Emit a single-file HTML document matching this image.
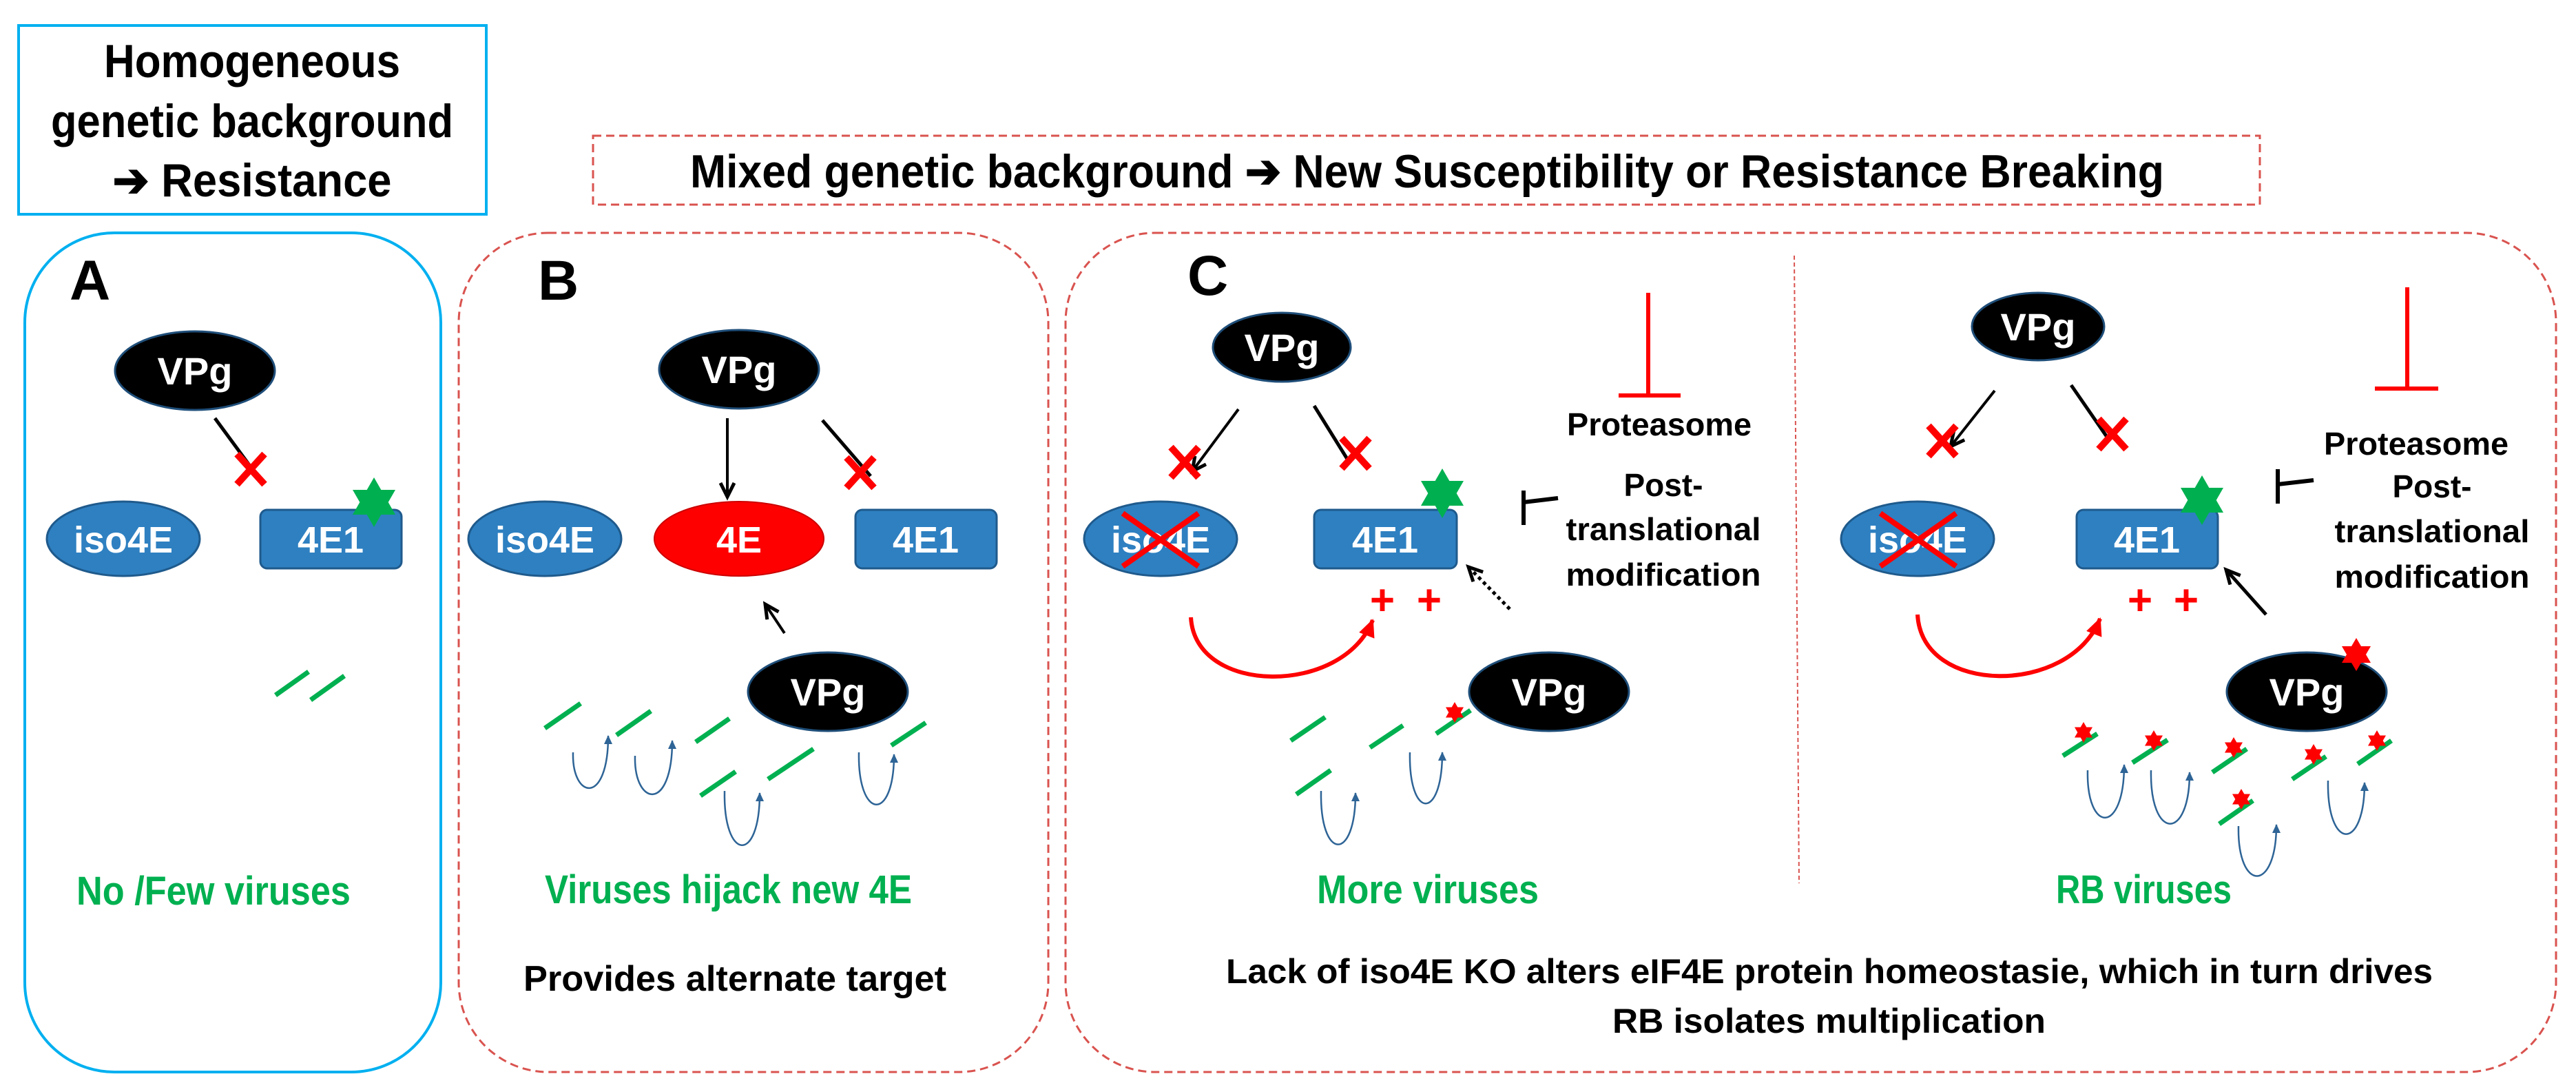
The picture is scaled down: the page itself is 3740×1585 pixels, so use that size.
<!DOCTYPE html>
<html><head><meta charset="utf-8"><style>
html,body{margin:0;padding:0;background:#fff;}
svg{display:block;}
text{font-family:"Liberation Sans",sans-serif;font-weight:bold;}
</style></head><body>
<svg width="3740" height="1585" viewBox="0 0 3740 1585" xmlns="http://www.w3.org/2000/svg">
<defs>
<marker id="ah" markerUnits="userSpaceOnUse" markerWidth="30" markerHeight="30" refX="22" refY="12" orient="auto"><path d="M2,2 L22,12 L2,22" fill="none" stroke="#000" stroke-width="5"/></marker>
<marker id="rah" markerUnits="userSpaceOnUse" markerWidth="34" markerHeight="34" refX="24" refY="14" orient="auto"><path d="M0,2 L26,14 L0,26 Z" fill="#f00"/></marker>
<marker id="bah" markerUnits="userSpaceOnUse" markerWidth="16" markerHeight="16" refX="12" refY="7" orient="auto"><path d="M0,1 L13,7 L0,13 Z" fill="#2e6496"/></marker>
<g id="rx"><path d="M-20,-22 L20,22 M20,-22 L-20,22" stroke="#f00" stroke-width="10"/></g>
<g id="gs"><polygon points="0,-36 31,18 -31,18" fill="#00b050"/><polygon points="0,36 31,-18 -31,-18" fill="#00b050"/></g>
<g id="rs"><polygon points="0,-15 13,7.5 -13,7.5" fill="#f00"/><polygon points="0,15 13,-7.5 -13,-7.5" fill="#f00"/></g>
<g id="bs"><polygon points="0,-24 21,12 -21,12" fill="#f00"/><polygon points="0,24 21,-12 -21,-12" fill="#f00"/></g>
</defs>

<!-- Top boxes -->
<rect x="27" y="37" width="679" height="274" fill="none" stroke="#00b0f0" stroke-width="4"/>
<text x="366" y="112" font-size="68" text-anchor="middle" textLength="430" lengthAdjust="spacingAndGlyphs">Homogeneous</text>
<text x="366" y="199" font-size="68" text-anchor="middle" textLength="584" lengthAdjust="spacingAndGlyphs">genetic background</text>
<text x="366" y="285" font-size="68" text-anchor="middle" textLength="405" lengthAdjust="spacingAndGlyphs">➔ Resistance</text>

<rect x="861" y="197" width="2420" height="100" fill="none" stroke="#d9534f" stroke-width="3" stroke-dasharray="12,7"/>
<text x="1002" y="272" font-size="68" textLength="2140" lengthAdjust="spacingAndGlyphs">Mixed genetic background ➔ New Susceptibility or Resistance Breaking</text>

<!-- Panels -->
<rect x="36" y="338" width="604" height="1218" rx="130" fill="none" stroke="#00b0f0" stroke-width="4"/>
<rect x="666" y="338" width="856" height="1218" rx="130" fill="none" stroke="#d9534f" stroke-width="3" stroke-dasharray="12,7"/>
<rect x="1547" y="338" width="2164" height="1218" rx="130" fill="none" stroke="#d9534f" stroke-width="3" stroke-dasharray="12,7"/>
<line x1="2605" y1="371" x2="2612" y2="1282" stroke="#d9534f" stroke-width="2" stroke-dasharray="6,4"/>

<text x="101" y="435" font-size="82">A</text>
<text x="781" y="435" font-size="82">B</text>
<text x="1724" y="428" font-size="82">C</text>

<!-- Panel A -->
<ellipse cx="283" cy="538" rx="116" ry="57" fill="#000" stroke="#1f4e79" stroke-width="3"/>
<text x="283" y="558" font-size="56" fill="#fff" text-anchor="middle">VPg</text>
<line x1="312" y1="607" x2="373" y2="690" stroke="#000" stroke-width="5"/>
<use href="#rx" x="364" y="681"/>
<ellipse cx="179" cy="782" rx="111" ry="54" fill="#2e80c1" stroke="#1f5a8c" stroke-width="3"/>
<text x="179" y="802" font-size="54" fill="#fff" text-anchor="middle">iso4E</text>
<rect x="378" y="740" width="205" height="85" rx="10" fill="#2e80c1" stroke="#1f5a8c" stroke-width="3"/>
<text x="480" y="802" font-size="54" fill="#fff" text-anchor="middle">4E1</text>
<use href="#gs" x="543" y="729"/>
<g stroke="#00b050" stroke-width="7"><line x1="400" y1="1009" x2="448" y2="975"/><line x1="451" y1="1016" x2="500" y2="981"/></g>
<text x="111" y="1313" font-size="58" fill="#00b050" textLength="398" lengthAdjust="spacingAndGlyphs">No /Few viruses</text>

<!-- Panel B -->
<ellipse cx="1073" cy="536" rx="116" ry="57" fill="#000" stroke="#1f4e79" stroke-width="3"/>
<text x="1073" y="556" font-size="56" fill="#fff" text-anchor="middle">VPg</text>
<line x1="1056" y1="607" x2="1056" y2="721" stroke="#000" stroke-width="4" marker-end="url(#ah)"/>
<line x1="1194" y1="610" x2="1264" y2="691" stroke="#000" stroke-width="5"/>
<use href="#rx" x="1249" y="686"/>
<ellipse cx="791" cy="782" rx="111" ry="54" fill="#2e80c1" stroke="#1f5a8c" stroke-width="3"/>
<text x="791" y="802" font-size="54" fill="#fff" text-anchor="middle">iso4E</text>
<ellipse cx="1073" cy="782" rx="123" ry="54" fill="#f00" stroke="#c00" stroke-width="2"/>
<text x="1073" y="802" font-size="54" fill="#fff" text-anchor="middle">4E</text>
<rect x="1242" y="740" width="205" height="85" rx="10" fill="#2e80c1" stroke="#1f5a8c" stroke-width="3"/>
<text x="1344" y="802" font-size="54" fill="#fff" text-anchor="middle">4E1</text>
<line x1="1139" y1="919" x2="1111" y2="877" stroke="#000" stroke-width="4" marker-end="url(#ah)"/>
<ellipse cx="1202" cy="1004" rx="116" ry="57" fill="#000" stroke="#1f4e79" stroke-width="3"/>
<text x="1202" y="1024" font-size="56" fill="#fff" text-anchor="middle">VPg</text>
<g stroke="#00b050" stroke-width="7">
<line x1="791" y1="1057" x2="843" y2="1021"/><line x1="895" y1="1067" x2="945" y2="1032"/>
<line x1="1010" y1="1077" x2="1059" y2="1043"/><line x1="1017" y1="1155" x2="1068" y2="1120"/>
<line x1="1115" y1="1131" x2="1181" y2="1087"/><line x1="1294" y1="1082" x2="1344" y2="1049"/>
</g>
<g fill="none" stroke="#2e6496" stroke-width="2.5" marker-end="url(#bah)">
<path d="M832,1092 C830,1160 883,1170 883,1068"/>
<path d="M922,1097 C920,1170 976,1180 976,1075"/>
<path d="M1052,1148 C1050,1250 1103,1255 1103,1151"/>
<path d="M1247,1092 C1245,1190 1298,1195 1298,1095"/>
</g>
<text x="791" y="1311" font-size="58" fill="#00b050" textLength="533" lengthAdjust="spacingAndGlyphs">Viruses hijack new 4E</text>
<text x="760" y="1438" font-size="52" fill="#000" textLength="614" lengthAdjust="spacingAndGlyphs">Provides alternate target</text>

<!-- Panel C left -->
<ellipse cx="1861" cy="504" rx="100" ry="50" fill="#000" stroke="#1f4e79" stroke-width="3"/>
<text x="1861" y="524" font-size="56" fill="#fff" text-anchor="middle">VPg</text>
<line x1="1798" y1="594" x2="1731" y2="684" stroke="#000" stroke-width="4" marker-end="url(#ah)"/>
<use href="#rx" x="1720" y="671"/>
<line x1="1908" y1="589" x2="1959" y2="671" stroke="#000" stroke-width="5"/>
<use href="#rx" x="1968" y="658"/>
<ellipse cx="1685" cy="782" rx="111" ry="54" fill="#2e80c1" stroke="#1f5a8c" stroke-width="3"/>
<text x="1685" y="802" font-size="54" fill="#fff" text-anchor="middle">iso4E</text>
<path d="M1630,745 L1740,822 M1740,745 L1630,822" stroke="#f00" stroke-width="8"/>
<rect x="1908" y="740" width="207" height="85" rx="10" fill="#2e80c1" stroke="#1f5a8c" stroke-width="3"/>
<text x="2011" y="802" font-size="54" fill="#fff" text-anchor="middle">4E1</text>
<use href="#gs" x="2094" y="716"/>
<path d="M2393,425 L2393,574 M2350,574 L2440,574" stroke="#f00" stroke-width="6" fill="none"/>
<text x="2409" y="632" font-size="46" text-anchor="middle" textLength="268" lengthAdjust="spacingAndGlyphs">Proteasome</text>
<text x="2415" y="720" font-size="46" text-anchor="middle">Post-</text>
<text x="2415" y="784" font-size="46" text-anchor="middle" textLength="283" lengthAdjust="spacingAndGlyphs">translational</text>
<text x="2415" y="850" font-size="46" text-anchor="middle" textLength="283" lengthAdjust="spacingAndGlyphs">modification</text>
<path d="M2212,712 L2212,762 M2212,729 L2262,723" stroke="#000" stroke-width="6" fill="none"/>
<line x1="2192" y1="884" x2="2132" y2="823" stroke="#000" stroke-width="5" stroke-dasharray="5,5" marker-end="url(#ah)"/>
<text x="2007" y="892" font-size="62" fill="#f00" text-anchor="middle">+</text>
<text x="2075" y="892" font-size="62" fill="#f00" text-anchor="middle">+</text>
<path d="M1729,896 C1735,1010 1950,1010 1993,900" fill="none" stroke="#f00" stroke-width="6" marker-end="url(#rah)"/>
<ellipse cx="2249" cy="1004" rx="116" ry="57" fill="#000" stroke="#1f4e79" stroke-width="3"/>
<text x="2249" y="1024" font-size="56" fill="#fff" text-anchor="middle">VPg</text>
<g stroke="#00b050" stroke-width="7">
<line x1="1874" y1="1075" x2="1924" y2="1041"/><line x1="1989" y1="1085" x2="2037" y2="1053"/>
<line x1="2085" y1="1065" x2="2135" y2="1031"/><line x1="1882" y1="1153" x2="1932" y2="1118"/>
</g>
<use href="#rs" x="2112" y="1034"/>
<g fill="none" stroke="#2e6496" stroke-width="2.5" marker-end="url(#bah)">
<path d="M1918,1148 C1916,1250 1968,1252 1968,1151"/>
<path d="M2047,1092 C2045,1190 2094,1192 2094,1092"/>
</g>
<text x="1912" y="1311" font-size="58" fill="#00b050" textLength="322" lengthAdjust="spacingAndGlyphs">More viruses</text>

<!-- Panel C right -->
<ellipse cx="2959" cy="474" rx="96" ry="49" fill="#000" stroke="#1f4e79" stroke-width="3"/>
<text x="2959" y="494" font-size="56" fill="#fff" text-anchor="middle">VPg</text>
<line x1="2896" y1="567" x2="2832" y2="648" stroke="#000" stroke-width="4" marker-end="url(#ah)"/>
<use href="#rx" x="2820" y="640"/>
<line x1="3007" y1="559" x2="3063" y2="640" stroke="#000" stroke-width="5"/>
<use href="#rx" x="3067" y="630"/>
<ellipse cx="2784" cy="782" rx="111" ry="54" fill="#2e80c1" stroke="#1f5a8c" stroke-width="3"/>
<text x="2784" y="802" font-size="54" fill="#fff" text-anchor="middle">iso4E</text>
<path d="M2730,745 L2840,822 M2840,745 L2730,822" stroke="#f00" stroke-width="8"/>
<rect x="3015" y="740" width="205" height="85" rx="10" fill="#2e80c1" stroke="#1f5a8c" stroke-width="3"/>
<text x="3117" y="802" font-size="54" fill="#fff" text-anchor="middle">4E1</text>
<use href="#gs" x="3197" y="726"/>
<path d="M3495,417 L3495,564 M3448,564 L3540,564" stroke="#f00" stroke-width="6" fill="none"/>
<text x="3508" y="660" font-size="46" text-anchor="middle" textLength="268" lengthAdjust="spacingAndGlyphs">Proteasome</text>
<text x="3531" y="722" font-size="46" text-anchor="middle">Post-</text>
<text x="3531" y="787" font-size="46" text-anchor="middle" textLength="283" lengthAdjust="spacingAndGlyphs">translational</text>
<text x="3531" y="853" font-size="46" text-anchor="middle" textLength="283" lengthAdjust="spacingAndGlyphs">modification</text>
<path d="M3307,681 L3307,731 M3307,703 L3359,697" stroke="#000" stroke-width="6" fill="none"/>
<line x1="3290" y1="892" x2="3232" y2="827" stroke="#000" stroke-width="5" marker-end="url(#ah)"/>
<text x="3107" y="892" font-size="62" fill="#f00" text-anchor="middle">+</text>
<text x="3174" y="892" font-size="62" fill="#f00" text-anchor="middle">+</text>
<path d="M2784,892 C2790,1010 3005,1010 3049,898" fill="none" stroke="#f00" stroke-width="6" marker-end="url(#rah)"/>
<ellipse cx="3349" cy="1004" rx="116" ry="57" fill="#000" stroke="#1f4e79" stroke-width="3"/>
<text x="3349" y="1024" font-size="56" fill="#fff" text-anchor="middle">VPg</text>
<use href="#bs" x="3421" y="950"/>
<g stroke="#00b050" stroke-width="7">
<line x1="2995" y1="1097" x2="3045" y2="1065"/><line x1="3096" y1="1107" x2="3147" y2="1074"/>
<line x1="3212" y1="1121" x2="3262" y2="1087"/><line x1="3328" y1="1131" x2="3377" y2="1098"/>
<line x1="3423" y1="1109" x2="3472" y2="1075"/><line x1="3222" y1="1196" x2="3271" y2="1162"/>
</g>
<use href="#rs" x="3025" y="1063"/><use href="#rs" x="3127" y="1075"/><use href="#rs" x="3243" y="1085"/>
<use href="#rs" x="3359" y="1095"/><use href="#rs" x="3451" y="1075"/><use href="#rs" x="3254" y="1160"/>
<g fill="none" stroke="#2e6496" stroke-width="2.5" marker-end="url(#bah)">
<path d="M3031,1118 C3029,1210 3084,1212 3084,1110"/>
<path d="M3123,1118 C3121,1220 3179,1222 3179,1121"/>
<path d="M3250,1199 C3248,1295 3305,1297 3305,1197"/>
<path d="M3380,1133 C3378,1235 3433,1237 3433,1136"/>
</g>
<text x="2985" y="1311" font-size="58" fill="#00b050" textLength="255" lengthAdjust="spacingAndGlyphs">RB viruses</text>

<text x="1780" y="1427" font-size="50" textLength="1752" lengthAdjust="spacingAndGlyphs">Lack of iso4E KO alters eIF4E protein homeostasie, which in turn drives</text>
<text x="2341" y="1499" font-size="50" textLength="629" lengthAdjust="spacingAndGlyphs">RB isolates multiplication</text>
</svg>
</body></html>
